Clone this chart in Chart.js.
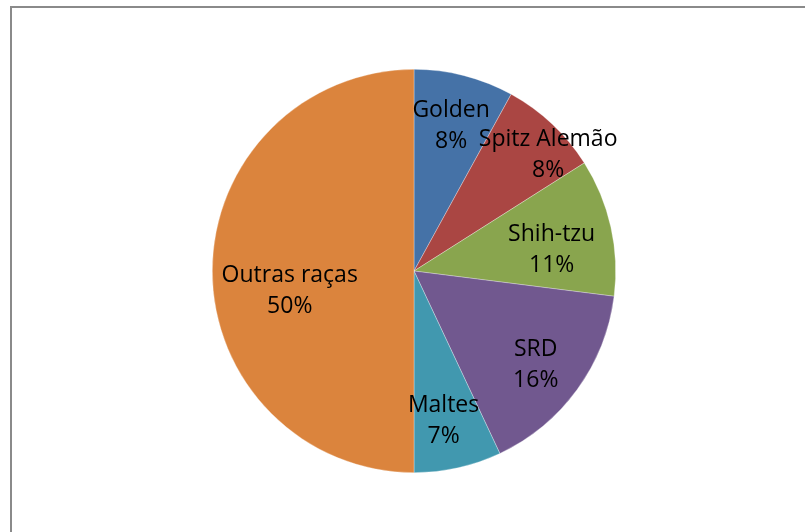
<!DOCTYPE html>
<html>
<head>
<meta charset="utf-8">
<script src="https://cdn.jsdelivr.net/npm/chart.js@4/dist/chart.umd.min.js"></script>
<style>
    html, body { margin: 0; padding: 0; background: #fff; overflow: hidden; }
    #wrap { position: relative; width: 805px; height: 532px; }
    #frame {
        position: absolute; left: 10px; top: 6px; width: 830px; height: 560px;
        border: 2px solid #8a8a8a; box-sizing: border-box;
    }
    #racas-chart { position: absolute; left: 0; top: 0; }
</style>
</head>
<body>
<div id="wrap">
    <div id="frame"></div>
    <canvas id="racas-chart" width="805" height="532"></canvas>
</div>
<script>
// Raças de cães (percentual)
const racas = ['Golden', 'Spitz Alemão', 'Shih-tzu', 'SRD', 'Maltes', 'Outras raças'];
const percentuais = [8, 8, 11, 16, 7, 50];

// Office-style palette
const cores = ['#4572A7', '#AA4643', '#89A54E', '#71588F', '#4198AF', '#DB843D'];

// Small pixel nudges for the data labels (best-fit placement)
const ajusteRotulos = [[0, 0], [32, -7], [-8, 12], [1, 6], [-3, 4], [25, 20]];

const rotulosPlugin = {
    id: 'rotulos',
    afterDatasetsDraw(chart) {
        const ctx = chart.ctx;
        const meta = chart.getDatasetMeta(0);
        const dataset = chart.data.datasets[0];
        const total = dataset.data.reduce((s, v) => s + v, 0);

        meta.data.forEach((arc, i) => {
            const mid = (arc.startAngle + arc.endAngle) / 2;
            const r = arc.outerRadius * 0.74;
            const x = arc.x + Math.cos(mid) * r + ajusteRotulos[i][0];
            const y = arc.y + Math.sin(mid) * r + ajusteRotulos[i][1];
            const pct = Math.round(dataset.data[i] / total * 100) + '%';

            ctx.save();
            ctx.fillStyle = '#000';
            ctx.font = '23px "Open Sans", "Liberation Sans", sans-serif';
            ctx.textAlign = 'center';
            ctx.textBaseline = 'middle';
            ctx.fillText(chart.data.labels[i], x, y - 15.5);
            ctx.fillText(pct, x, y + 15.5);
            ctx.restore();
        });
    }
};

new Chart(document.getElementById('racas-chart').getContext('2d'), {
    type: 'pie',
    data: {
        labels: racas,
        datasets: [{
            data: percentuais,
            backgroundColor: cores,
            borderColor: 'rgba(255,255,255,0.5)',
            borderWidth: 0.6
        }]
    },
    options: {
        responsive: false,
        animation: false,
        layout: { padding: { left: 212, right: 189, top: 69, bottom: 59 } },
        plugins: {
            legend: { display: false },
            tooltip: { enabled: false }
        }
    },
    plugins: [rotulosPlugin]
});
</script>
</body>
</html>
